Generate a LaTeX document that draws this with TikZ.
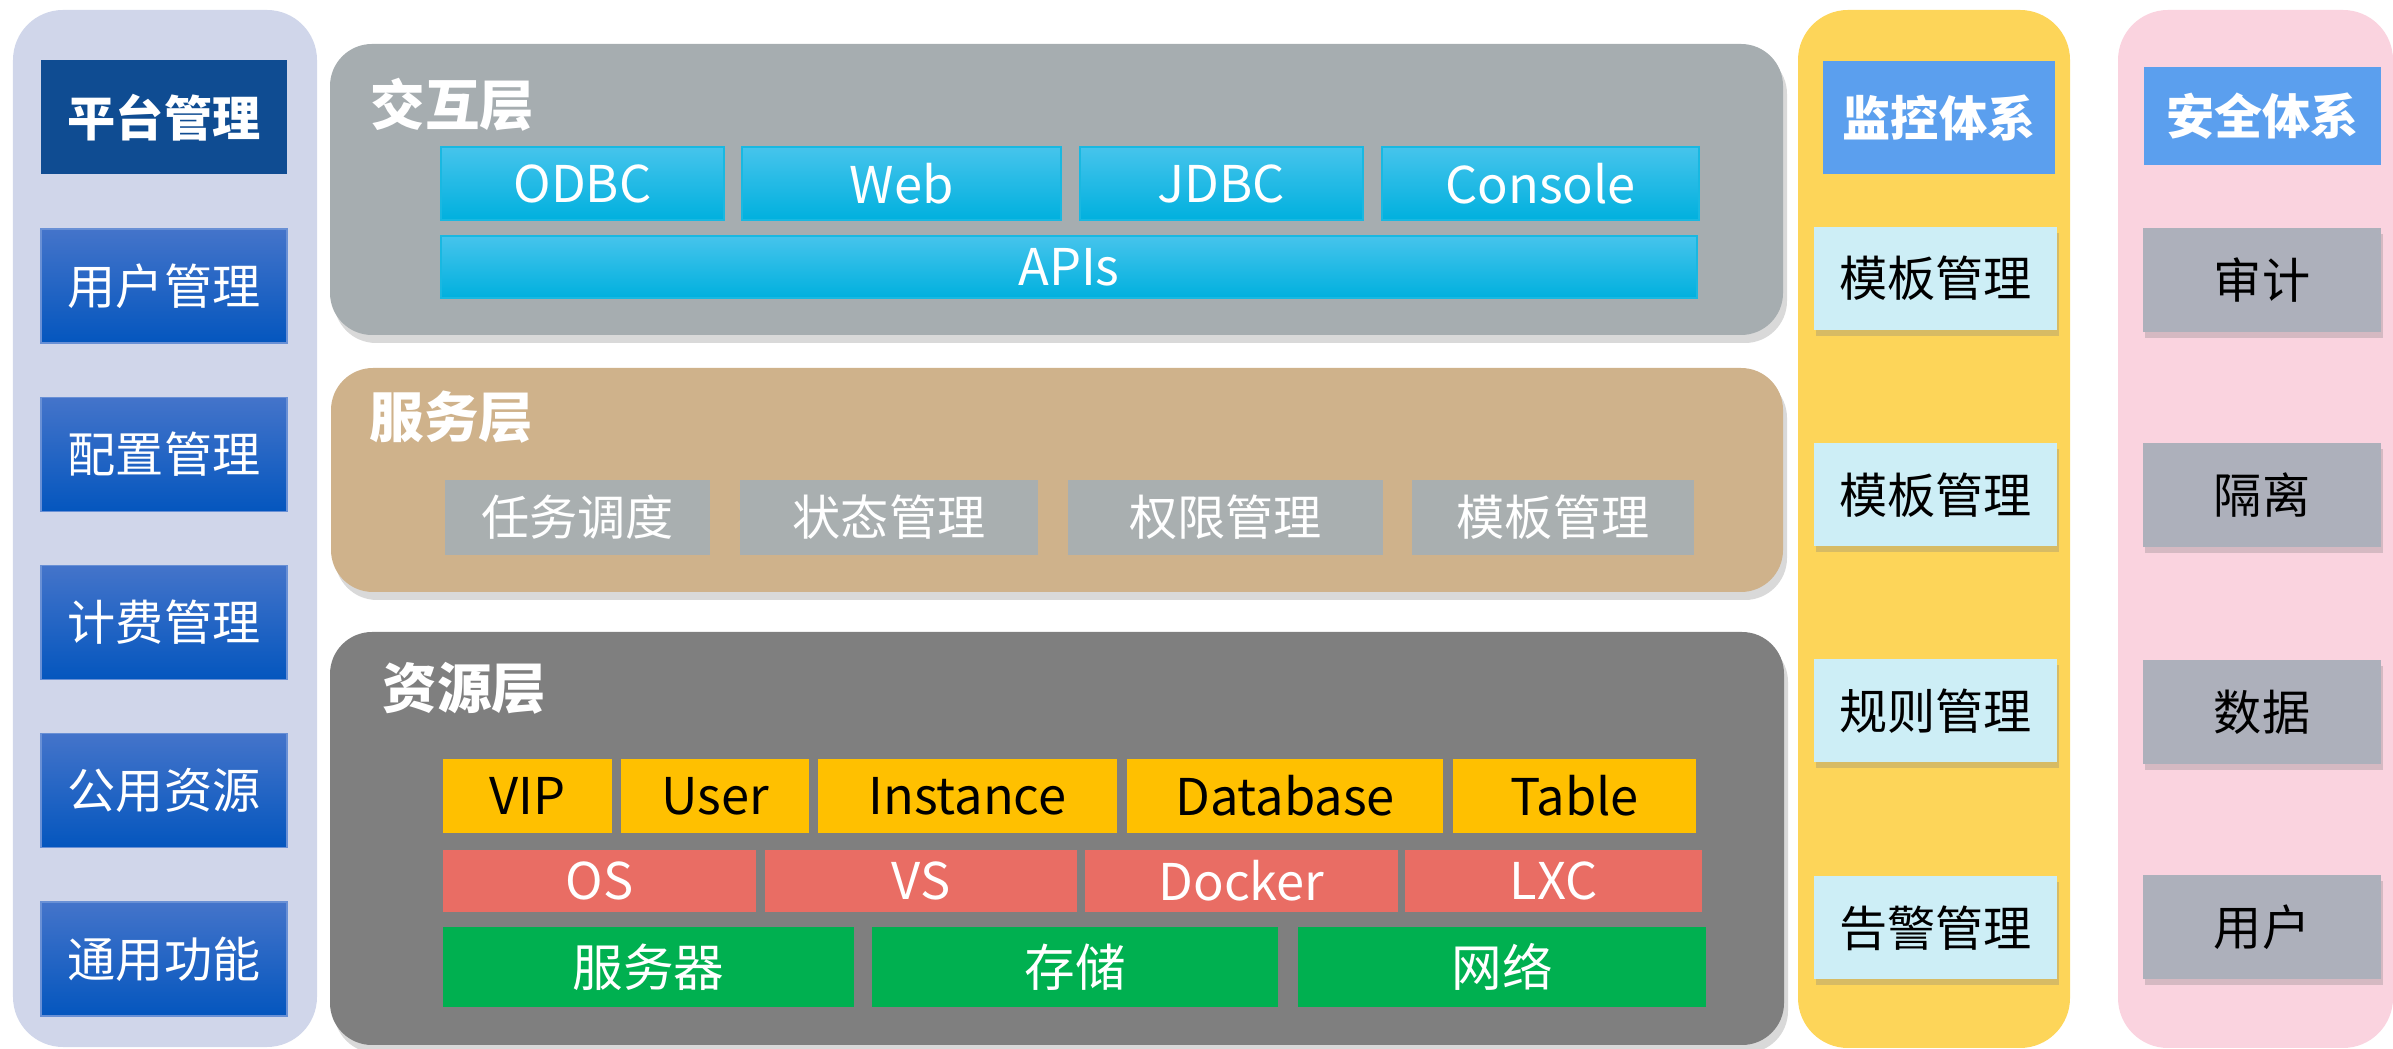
\documentclass[tikz,border=0pt]{standalone}
\usepackage{fontspec}
\newfontfamily\cjk{Noto Sans CJK SC}
\usepackage{tikz}
\usetikzlibrary{positioning,shadows}
\definecolor{platbg}{RGB}{208,214,234}
\definecolor{navy}{RGB}{15,76,146}
\definecolor{bluetop}{RGB}{68,116,202}
\definecolor{bluebot}{RGB}{4,86,190}
\definecolor{interbg}{RGB}{166,173,176}
\definecolor{cyantop}{RGB}{70,196,236}
\definecolor{cyanbot}{RGB}{0,176,222}
\definecolor{servbg}{RGB}{207,178,139}
\definecolor{servbox}{RGB}{169,175,176}
\definecolor{resbg}{RGB}{127,127,127}
\definecolor{resyellow}{RGB}{255,192,0}
\definecolor{resred}{RGB}{233,109,100}
\definecolor{resgreen}{RGB}{0,176,80}
\definecolor{monbg}{RGB}{253,213,89}
\definecolor{headblue}{RGB}{91,159,238}
\definecolor{monbox}{RGB}{205,238,246}
\definecolor{secbg}{RGB}{250,211,223}
\definecolor{secbox}{RGB}{173,176,187}

\tikzset{
  sidepanel/.style={rectangle, rounded corners=0.5cm, inner sep=0pt},
  layerpanel/.style={rectangle, rounded corners=0.42cm, inner sep=0pt,
    drop shadow={shadow xshift=0.4mm, shadow yshift=-0.8mm, opacity=0.3}},
  layertitle/.style={anchor=west, text=white, inner sep=0pt,
    font=\cjk\bfseries\fontsize{15.5}{18}\selectfont},
  itembox/.style={rectangle, inner sep=0pt, font=\cjk\fontsize{13.7}{16}\selectfont},
  latinbox/.style={itembox, font=\cjk\fontsize{14.4}{17}\selectfont},
  navybox/.style={itembox, fill=navy, text=white,
    font=\cjk\bfseries\fontsize{13.7}{16}\selectfont},
  bluebox/.style={itembox, top color=bluetop, bottom color=bluebot,
    draw=bluetop!80!white, line width=0.5pt, text=white},
  cyanbox/.style={latinbox, top color=cyantop, bottom color=cyanbot,
    draw=cyanbot!90!white, line width=0.5pt, text=white},
  servitem/.style={itembox, fill=servbox, text=white},
  resitem/.style={latinbox, drop shadow={shadow xshift=0.3mm, shadow yshift=-0.5mm, opacity=0.35}},
  headbox/.style={itembox, fill=headblue, text=white,
    font=\cjk\bfseries\fontsize{13.7}{16}\selectfont},
  sideitem/.style={itembox, text=black,
    drop shadow={shadow xshift=0.2mm, shadow yshift=-0.6mm, opacity=0.3}}
}

\begin{document}
\begin{tikzpicture}
  \useasboundingbox (0,0) rectangle (23.93,-10.49);

  % Side panels
  \node[sidepanel, fill=platbg, minimum width=3.04cm, minimum height=10.37cm] (platpanel) at (1.65,-5.285) {};
  \node[sidepanel, fill=monbg, minimum width=2.72cm, minimum height=10.38cm] (monpanel) at (19.34,-5.29) {};
  \node[sidepanel, fill=secbg, minimum width=2.75cm, minimum height=10.38cm] (secpanel) at (22.555,-5.29) {};

  % Layers
  \node[layerpanel, fill=interbg, minimum width=14.53cm, minimum height=2.91cm] (inter) at (10.565,-1.895) {};
  \node[layerpanel, fill=servbg, minimum width=14.52cm, minimum height=2.24cm] (serv) at (10.57,-4.80) {};
  \node[layerpanel, fill=resbg, minimum width=14.54cm, minimum height=4.13cm] (res) at (10.57,-8.385) {};

  \node[layertitle] (intertitle) at (3.70,-1.05) {交互层};
  \node[layertitle] (servtitle) at (3.69,-4.17) {服务层};
  \node[layertitle] (restitle) at (3.82,-6.88) {资源层};

  % Platform management
  \node[navybox, minimum width=2.46cm, minimum height=1.14cm] (plat) at (1.64,-1.175) {平台管理};
  \node[bluebox, minimum width=2.46cm, minimum height=1.14cm] (user) at (1.64,-2.86) {用户管理};
  \node[bluebox, minimum width=2.46cm, minimum height=1.14cm] (conf) at (1.64,-4.545) {配置管理};
  \node[bluebox, minimum width=2.46cm, minimum height=1.14cm] (bill) at (1.64,-6.225) {计费管理};
  \node[bluebox, minimum width=2.46cm, minimum height=1.14cm] (pub) at (1.64,-7.905) {公用资源};
  \node[bluebox, minimum width=2.46cm, minimum height=1.14cm] (common) at (1.64,-9.59) {通用功能};

  % Interaction layer
  \node[cyanbox, minimum width=2.83cm, minimum height=0.73cm] (odbc) at (5.825,-1.835) {ODBC};
  \node[cyanbox, minimum width=3.19cm, minimum height=0.73cm] (web) at (9.015,-1.835) {Web};
  \node[cyanbox, minimum width=2.83cm, minimum height=0.73cm] (jdbc) at (12.215,-1.835) {JDBC};
  \node[cyanbox, minimum width=3.17cm, minimum height=0.73cm] (console) at (15.405,-1.835) {Console};
  \node[cyanbox, minimum width=12.56cm, minimum height=0.62cm] (apis) at (10.69,-2.67) {APIs};

  % Service layer
  \node[servitem, minimum width=2.65cm, minimum height=0.75cm] (sched) at (5.775,-5.175) {任务调度};
  \node[servitem, minimum width=2.98cm, minimum height=0.75cm] (state) at (8.89,-5.175) {状态管理};
  \node[servitem, minimum width=3.15cm, minimum height=0.75cm] (perm) at (12.255,-5.175) {权限管理};
  \node[servitem, minimum width=2.82cm, minimum height=0.75cm] (tmpl) at (15.53,-5.175) {模板管理};

  % Resource layer
  \node[resitem, fill=resyellow, minimum width=1.69cm, minimum height=0.74cm] (vip) at (5.275,-7.96) {VIP};
  \node[resitem, fill=resyellow, minimum width=1.88cm, minimum height=0.74cm] (ruser) at (7.15,-7.96) {User};
  \node[resitem, fill=resyellow, minimum width=2.99cm, minimum height=0.74cm] (inst) at (9.675,-7.96) {Instance};
  \node[resitem, fill=resyellow, minimum width=3.16cm, minimum height=0.74cm] (db) at (12.85,-7.96) {Database};
  \node[resitem, fill=resyellow, minimum width=2.43cm, minimum height=0.74cm] (tbl) at (15.745,-7.96) {Table};

  \node[resitem, fill=resred, text=white, minimum width=3.13cm, minimum height=0.62cm] (os) at (5.995,-8.81) {OS};
  \node[resitem, fill=resred, text=white, minimum width=3.12cm, minimum height=0.62cm] (vs) at (9.21,-8.81) {VS};
  \node[resitem, fill=resred, text=white, minimum width=3.13cm, minimum height=0.62cm] (docker) at (12.415,-8.81) {Docker};
  \node[resitem, fill=resred, text=white, minimum width=2.97cm, minimum height=0.62cm] (lxc) at (15.535,-8.81) {LXC};

  \node[resitem, fill=resgreen, text=white, minimum width=4.11cm, minimum height=0.80cm] (server) at (6.485,-9.67) {服务器};
  \node[resitem, fill=resgreen, text=white, minimum width=4.06cm, minimum height=0.80cm] (storage) at (10.75,-9.67) {存储};
  \node[resitem, fill=resgreen, text=white, minimum width=4.08cm, minimum height=0.80cm] (net) at (15.02,-9.67) {网络};

  % Monitoring
  \node[headbox, minimum width=2.32cm, minimum height=1.13cm] (monhead) at (19.39,-1.175) {监控体系};
  \node[sideitem, fill=monbox, minimum width=2.43cm, minimum height=1.03cm] (mon1) at (19.355,-2.785) {模板管理};
  \node[sideitem, fill=monbox, minimum width=2.43cm, minimum height=1.03cm] (mon2) at (19.355,-4.95) {模板管理};
  \node[sideitem, fill=monbox, minimum width=2.43cm, minimum height=1.03cm] (mon3) at (19.355,-7.11) {规则管理};
  \node[sideitem, fill=monbox, minimum width=2.43cm, minimum height=1.03cm] (mon4) at (19.355,-9.28) {告警管理};

  % Security
  \node[headbox, minimum width=2.37cm, minimum height=0.98cm] (sechead) at (22.625,-1.16) {安全体系};
  \node[sideitem, fill=secbox, minimum width=2.38cm, minimum height=1.04cm] (audit) at (22.62,-2.80) {审计};
  \node[sideitem, fill=secbox, minimum width=2.38cm, minimum height=1.04cm] (iso) at (22.62,-4.95) {隔离};
  \node[sideitem, fill=secbox, minimum width=2.38cm, minimum height=1.04cm] (data) at (22.62,-7.125) {数据};
  \node[sideitem, fill=secbox, minimum width=2.38cm, minimum height=1.04cm] (secuser) at (22.62,-9.275) {用户};

\end{tikzpicture}
\end{document}
